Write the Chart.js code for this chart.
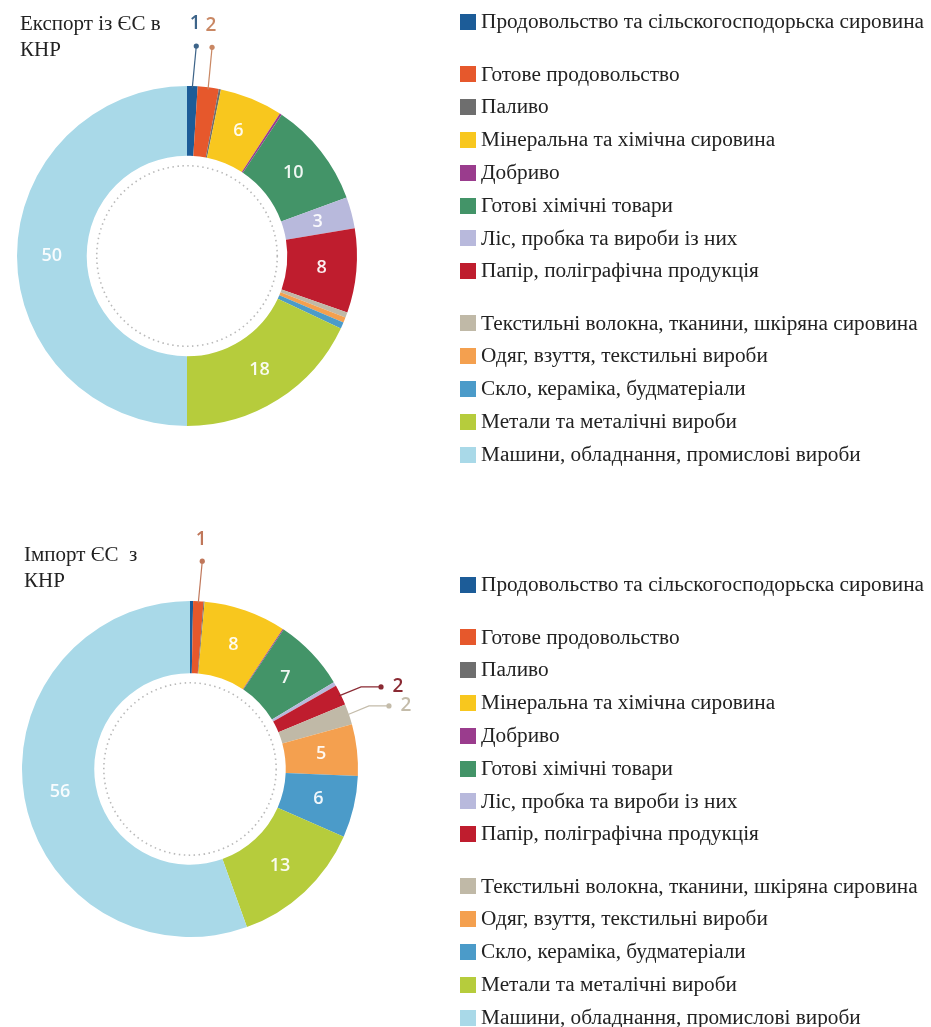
<!DOCTYPE html>
<html>
<head>
<meta charset="utf-8">
<script src="https://cdn.jsdelivr.net/npm/chart.js@4/dist/chart.umd.min.js"></script>
<style>
  body { margin: 0; background: #fff; width: 931px; height: 1027px; position: relative; overflow: hidden; }
  .chartbox { position: absolute; left: 0; width: 931px; }
</style>
</head>
<body>
<div class="chartbox" style="top:0; height:520px"><canvas id="exportChart"></canvas></div>
<div class="chartbox" style="top:520px; height:507px"><canvas id="importChart"></canvas></div>
<script>
const categories = [
    'Продовольство та сільскогосподорьска сировина',
    'Готове продовольство',
    'Паливо',
    'Мінеральна та хімічна сировина',
    'Добриво',
    'Готові хімічні товари',
    'Ліс, пробка та вироби із них',
    'Папір, поліграфічна продукція',
    'Текстильні волокна, тканини, шкіряна сировина',
    'Одяг, взуття, текстильні вироби',
    'Скло, кераміка, будматеріали',
    'Метали та металічні вироби',
    'Машини, обладнання, промислові вироби'
];
const colors = ['#1c5c98', '#e6582c', '#6e6e6e', '#f8c71e', '#9a3c8d', '#439468', '#b8b9dc',
                '#bf1d2e', '#c0b9a7', '#f4a04f', '#4b9bc9', '#b6cc3c', '#a9d9e8'];

const exportTitle = ['Експорт із ЄС в', 'КНР'];
const importTitle = ['Імпорт ЄС  з', 'КНР'];

// shares, %
const exportValues = [1, 2, 0.2, 6, 0.2, 10, 3, 8, 0.5, 0.5, 0.6, 18, 50];
const importValues = [0.3, 1, 0.1, 8, 0.1, 7, 0.4, 2, 2, 5, 6, 13, 56];

// numbers drawn outside with a leader line: [index, text, colour, direction]
const exportCallouts = [[0, '1', '#3d6489', 'up'], [1, '2', '#c98763', 'up']];
const importCallouts = [[1, '1', '#c0775a', 'up'], [7, '2', '#8a2a33', 'right'], [8, '2', '#c4bcaa', 'right']];

// legend gaps after these items
const legendGroups = [0, 7];

const SERIF = "'Liberation Serif', 'Times New Roman', serif";

const donutLabels = {
    id: 'donutLabels',
    afterDatasetsDraw(chart, args, opts) {
        const ctx = chart.ctx;
        const meta = chart.getDatasetMeta(0);
        const values = chart.data.datasets[0].data;
        const first = meta.data[0];
        ctx.save();
        // dotted ring inside the hole
        ctx.beginPath();
        ctx.setLineDash([1.5, 3.5]);
        ctx.lineWidth = 1.6;
        ctx.strokeStyle = '#b9b9b9';
        ctx.arc(first.x, first.y, first.innerRadius * 0.9, 0, Math.PI * 2);
        ctx.stroke();
        ctx.setLineDash([]);

        ctx.font = '600 18px "Open Sans", sans-serif';
        ctx.textAlign = 'center';
        ctx.textBaseline = 'middle';
        meta.data.forEach((arc, i) => {
            if (values[i] < 3) return;
            const mid = (arc.startAngle + arc.endAngle) / 2;
            const r = (arc.innerRadius + arc.outerRadius) / 2;
            ctx.fillStyle = 'rgba(255,255,255,0.92)';
            ctx.fillText(String(values[i]), arc.x + Math.cos(mid) * r, arc.y + Math.sin(mid) * r);
        });

        opts.callouts.forEach(([i, txt, col, dir]) => {
            const arc = meta.data[i];
            const mid = (arc.startAngle + arc.endAngle) / 2;
            const px = arc.x + Math.cos(mid) * (arc.outerRadius - 2);
            const py = arc.y + Math.sin(mid) * (arc.outerRadius - 2);
            ctx.strokeStyle = col;
            ctx.fillStyle = col;
            ctx.lineWidth = 1.2;
            ctx.beginPath();
            let dx, dy, tx, ty;
            if (dir === 'up') {
                dx = px + 4; dy = py - 42;
                ctx.moveTo(px, py);
                ctx.lineTo(dx, dy);
                tx = dx - 1; ty = dy - 22;
            } else {
                const ex = px + 22, ey = py - 9;
                dx = ex + 20; dy = ey;
                ctx.moveTo(px, py);
                ctx.lineTo(ex, ey);
                ctx.lineTo(dx, dy);
                tx = dx + 17; ty = dy;
            }
            ctx.stroke();
            ctx.beginPath();
            ctx.arc(dx, dy, 2.6, 0, Math.PI * 2);
            ctx.fill();
            ctx.font = '600 19px "Open Sans", sans-serif';
            ctx.fillText(txt, tx, ty);
        });
        ctx.restore();
    },
    afterDraw(chart, args, opts) {
        const ctx = chart.ctx;
        ctx.save();
        ctx.textAlign = 'left';
        ctx.textBaseline = 'middle';
        ctx.fillStyle = '#222';
        // title
        ctx.font = '21px ' + SERIF;
        opts.title.forEach((line, k) => ctx.fillText(line, opts.titleX, opts.titleY + k * 26.5));
        // legend, stretched to the reference width of the longest line
        ctx.font = '20px ' + SERIF;
        const sx = Math.min(1.12, 443 / ctx.measureText(categories[0]).width);
        let y = opts.legendY;
        categories.forEach((c, i) => {
            ctx.fillStyle = colors[i];
            ctx.fillRect(460, Math.round(y - 8), 16, 16);
            ctx.fillStyle = '#222';
            ctx.save();
            ctx.translate(481, y);
            ctx.scale(sx, 1);
            ctx.fillText(c, 0, 1);
            ctx.restore();
            y += 32.8;
            if (legendGroups.includes(i)) y += 19.5;
        });
        ctx.restore();
    }
};

function makeDonut(id, values, callouts, padding, cutout, extra) {
    new Chart(document.getElementById(id).getContext('2d'), {
        type: 'doughnut',
        data: {
            labels: categories,
            datasets: [{
                data: values,
                backgroundColor: colors,
                borderWidth: 0
            }]
        },
        options: {
            responsive: true,
            maintainAspectRatio: false,
            animation: false,
            cutout: cutout,
            layout: { padding: padding },
            plugins: {
                legend: { display: false },
                tooltip: { enabled: false },
                donutLabels: Object.assign({ callouts: callouts }, extra)
            }
        },
        plugins: [donutLabels]
    });
}

makeDonut('exportChart', exportValues, exportCallouts, { left: 17, top: 86, right: 574, bottom: 94 }, '59%',
    { title: exportTitle, titleX: 20, titleY: 24, legendY: 22 });
makeDonut('importChart', importValues, importCallouts, { left: 22, top: 81, right: 573, bottom: 90 }, '57%',
    { title: importTitle, titleX: 24, titleY: 35, legendY: 65 });
</script>
</body>
</html>
